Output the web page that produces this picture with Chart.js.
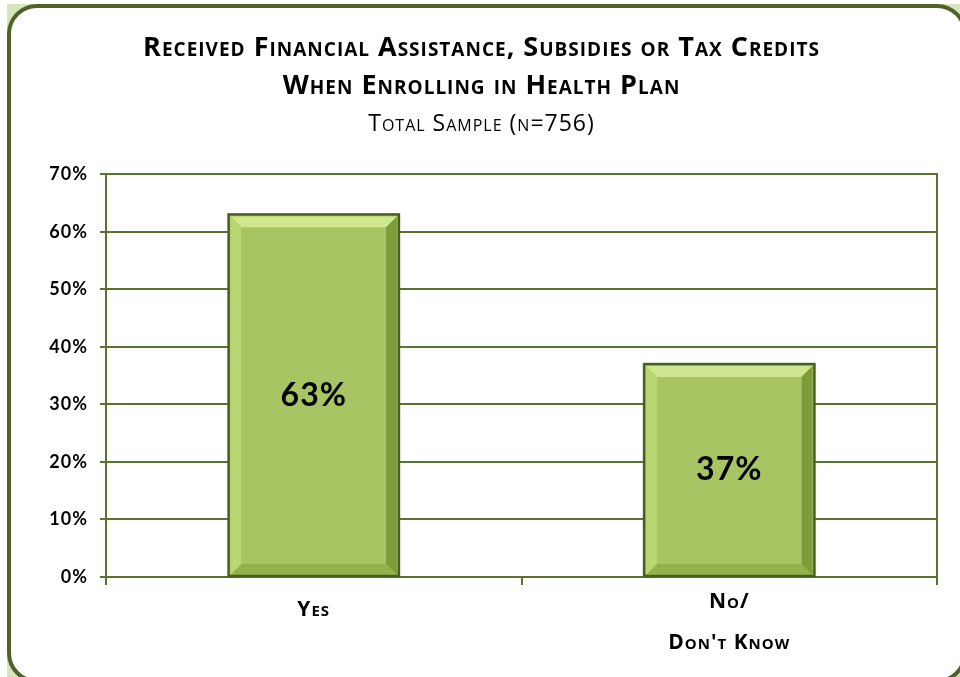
<!DOCTYPE html>
<html>
<head>
<meta charset="utf-8">
<script src="https://cdn.jsdelivr.net/npm/chart.js@4"></script>
<style>
  html, body { margin: 0; padding: 0; background: #fff; }
  body { width: 960px; height: 677px; position: relative; overflow: hidden; }
  .under { position: absolute; left: 7px; top: 4px; width: 980px; height: 700px; background: #d8e4bc; }
  .frame {
    position: absolute; left: 7px; top: 4px; width: 952px; height: 671px;
    border: 4px solid #4f6228; border-radius: 30px; background: #fff;
  }
  #chart { position: absolute; left: 0; top: 0; }
</style>
</head>
<body>
<div class="under"></div>
<div class="frame"></div>
<canvas id="chart" width="960" height="677"></canvas>
<script>
const categories = ['Yes', ['No/', "Don't Know"]];
const shares = [63, 37];
const yTicks = [0, 10, 20, 30, 40, 50, 60, 70];

const FONT = 'Lato, "Open Sans", sans-serif';
const HEAD = '"Open Sans", Lato, sans-serif';
const OLIVE = '#5a7430';

// slightly looser tracking for all canvas text
const tracking = {
  id: 'tracking',
  beforeUpdate(chart) { chart.ctx.letterSpacing = '1px'; },
  beforeDraw(chart) { chart.ctx.letterSpacing = '1px'; }
};

// raised-bevel look on each bar, drawn from the bar element geometry
const bevel = {
  id: 'bevel',
  afterDatasetsDraw(chart) {
    const ctx = chart.ctx;
    chart.getDatasetMeta(0).data.forEach(bar => {
      const { x, y, base, width } = bar.getProps(['x', 'y', 'base', 'width'], true);
      const l = x - width / 2 + 2, r = x + width / 2 - 2, t = y + 2, b = base - 1;
      const d = 11;
      const face = (pts, color) => {
        ctx.beginPath();
        ctx.moveTo(pts[0][0], pts[0][1]);
        pts.slice(1).forEach(p => ctx.lineTo(p[0], p[1]));
        ctx.closePath();
        ctx.fillStyle = color;
        ctx.fill();
      };
      ctx.save();
      face([[l, t], [r, t], [r - d, t + d], [l + d, t + d]], '#cfe78e');
      face([[l, t], [l + d, t + d], [l + d, b - d], [l, b]], '#b9d672');
      face([[r, t], [r, b], [r - d, b - d], [r - d, t + d]], '#7e9c3c');
      face([[l, b], [l + d, b - d], [r - d, b - d], [r, b]], '#93b24c');
      ctx.fillStyle = '#a7c663';
      ctx.fillRect(l + d, t + d, r - l - 2 * d, b - t - 2 * d);
      ctx.strokeStyle = '#4a5e22';
      ctx.lineWidth = 2.5;
      ctx.strokeRect(x - width / 2, y, width, base - y);
      ctx.restore();
    });
  }
};

// value text in the middle of each bar
const valueLabels = {
  id: 'valueLabels',
  afterDatasetsDraw(chart) {
    const ctx = chart.ctx;
    const ds = chart.data.datasets[0];
    chart.getDatasetMeta(0).data.forEach((bar, i) => {
      const { x, y, base } = bar.getProps(['x', 'y', 'base'], true);
      ctx.save();
      ctx.font = 'bold 32px ' + FONT;
      ctx.fillStyle = '#000';
      ctx.textAlign = 'center';
      ctx.textBaseline = 'middle';
      ctx.fillText(ds.data[i] + '%', x, (y + base) / 2);
      ctx.restore();
    });
  }
};

new Chart(document.getElementById('chart'), {
  type: 'bar',
  data: {
    labels: categories,
    datasets: [{
      data: shares,
      backgroundColor: '#a7c663',
      borderWidth: 0,
      categoryPercentage: 1,
      barPercentage: 0.41
    }]
  },
  options: {
    responsive: false,
    animation: false,
    layout: { padding: { left: 26, right: 23, top: 20, bottom: 0 } },
    plugins: {
      legend: { display: false },
      tooltip: { enabled: false },
      title: {
        display: true,
        text: ['Received Financial Assistance, Subsidies or Tax Credits', 'When Enrolling in Health Plan'],
        color: '#000',
        // weight string carries the small-caps variant into the canvas font
        font: { family: HEAD, size: 27, weight: 'small-caps bold', lineHeight: 1.41 },
        padding: { top: 9, bottom: 0 }
      },
      subtitle: {
        display: true,
        text: 'Total Sample (n=756)',
        color: '#000',
        font: { family: HEAD, size: 23, weight: 'small-caps', lineHeight: 1.0 },
        padding: { top: 7.5, bottom: 38.5 }
      }
    },
    scales: {
      x: {
        grid: { drawOnChartArea: false, drawTicks: true, tickLength: 8, color: OLIVE, lineWidth: 2 },
        border: { display: true, color: OLIVE, width: 2 },
        ticks: {
          color: '#000',
          padding: -3,
          font: ctx => ({
            family: HEAD, size: 21, weight: 'small-caps bold',
            lineHeight: ctx.index === 0 ? 2.71 : 1.95
          })
        },
        afterFit: s => { s.height = 100; }
      },
      y: {
        min: 0,
        max: 70,
        afterBuildTicks: s => { s.ticks = yTicks.map(v => ({ value: v })); },
        grid: { color: OLIVE, lineWidth: 2, tickLength: 6 },
        border: { display: true, color: OLIVE, width: 2 },
        ticks: {
          color: '#000',
          padding: 12,
          font: { family: FONT, size: 18, weight: 'bold' },
          callback: v => v + '%'
        },
        afterFit: s => { s.width = 80; }
      },
      y2: {
        position: 'right',
        min: 0,
        max: 70,
        grid: { display: false },
        border: { display: true, color: OLIVE, width: 2 },
        ticks: { display: false },
        afterFit: s => { s.width = 0; }
      }
    }
  },
  plugins: [tracking, bevel, valueLabels]
});
</script>
</body>
</html>
